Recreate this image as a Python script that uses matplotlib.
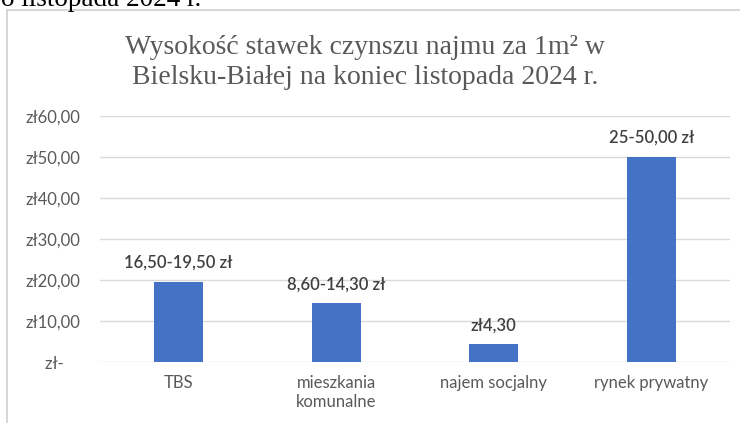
import matplotlib.pyplot as plt
from matplotlib.lines import Line2D

# Data
categories = ["TBS", "mieszkania\nkomunalne", "najem socjalny", "rynek prywatny"]
values = [19.5, 14.3, 4.3, 50.0]
value_labels = ["16,50-19,50 zł", "8,60-14,30 zł", "zł4,30", "25-50,00 zł"]
y_ticks = [0, 10, 20, 30, 40, 50, 60]
y_tick_labels = ["zł-    ", "zł10,00", "zł20,00", "zł30,00", "zł40,00", "zł50,00", "zł60,00"]

W, H = 740, 423
fig = plt.figure(figsize=(W / 100, H / 100), dpi=100)
fig.patch.set_facecolor("white")

sans = ["Lato", "DejaVu Sans"]
gray = "#595959"

# chart border (top and left visible)
fig.add_artist(Line2D([7 / W, 1], [1 - 10 / H, 1 - 10 / H], color="#d0d0d0", lw=1.2))
fig.add_artist(Line2D([7 / W, 7 / W], [0, 1 - 10 / H], color="#d0d0d0", lw=1.2))

# cut-off text from the document above
fig.text(1 / W, 1 - 6 / H, "o listopada 2024 r.", family="Liberation Serif",
         fontsize=19.5, color="black", ha="left", va="baseline")

# title
fig.text(365 / W, 1 - 47 / H, "Wysokość stawek czynszu najmu za 1m² w",
         family="Liberation Serif", fontsize=20, color=gray, ha="center", va="center")
fig.text(365 / W, 1 - 77 / H, "Bielsku-Białej na koniec listopada 2024 r.",
         family="Liberation Serif", fontsize=20, color=gray, ha="center", va="center")

ax = fig.add_axes([100 / W, 61 / H, 630 / W, 246 / H])
x = range(len(categories))
ax.bar(x, values, width=0.31, color="#4472C4", zorder=3)
ax.set_xlim(-0.5, len(categories) - 0.5)
ax.set_ylim(0, 60)
ax.set_yticks(y_ticks)
ax.set_yticklabels(y_tick_labels, family=sans, fontsize=12, color=gray)
ax.set_xticks(list(x))
ax.set_xticklabels(categories, family=sans, fontsize=12, color=gray, linespacing=1.3)
ax.tick_params(axis="both", length=0)
ax.tick_params(axis="y", pad=14)
ax.tick_params(axis="x", pad=9)
ax.grid(axis="y", color="#d9d9d9", lw=1, zorder=0)
for s in ax.spines.values():
    s.set_visible(False)

for xi, v, lab in zip(x, values, value_labels):
    ax.annotate(lab, (xi, v), xytext=(0, 8), textcoords="offset points",
                ha="center", va="bottom", family=sans, fontsize=12,
                fontweight="semibold", color="#404040")

fig.savefig("out.png", dpi=100)
